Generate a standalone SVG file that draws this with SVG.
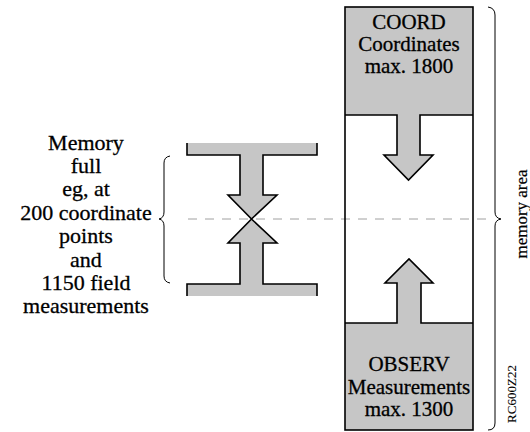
<svg xmlns="http://www.w3.org/2000/svg" width="530" height="432" viewBox="0 0 530 432">
<style>
.t{font-family:"Liberation Serif","Times New Roman",serif;font-size:21px;fill:#000;stroke:#000;stroke-width:0.3;text-anchor:middle}
.l{font-size:22px}
.sh{fill:#c6c6c6;stroke:none}
.ol{fill:none;stroke:#000;stroke-width:1.6;stroke-linejoin:miter}
.br{fill:none;stroke:#000;stroke-width:1}
.dash{stroke:#a0a0a0;stroke-width:1;stroke-dasharray:9,8;fill:none}
</style>
<rect width="530" height="432" fill="#fff"/>
<g id="connectors">
<line class="dash" x1="188" y1="219" x2="490" y2="219"/>
<path id="brace-left" class="br" d="M170,156 Q164,157 164,163 L164,212 Q164,218 159,219 Q164,220 164,226 L164,276 Q164,282 170,283"/>
<path id="brace-right" class="br" d="M488,7 Q495,8 495,15 L495,212 Q495,218 501,219 Q495,220 495,226 L495,423 Q495,430 488,430"/>
</g>
<g id="memory-full-shape">
<path class="sh" d="M187,143 L317,143 L317,155 L263,155 L263,195 L277,195 L251.5,219 L277,243 L263,243 L263,284 L317,284 L317,296 L187,296 L187,284 L240,284 L240,243 L228,243 L251.5,219 L228,195 L240,195 L240,155 L187,155 Z"/>
<path class="ol" d="M187,143 L187,155 L240,155 L240,195 L228,195 L251.5,219 L228,243 L240,243 L240,284 L187,284 L187,296"/>
<path class="ol" d="M317,143 L317,155 L263,155 L263,195 L277,195 L251.5,219 L277,243 L263,243 L263,284 L317,284 L317,296"/>
</g>
<g id="memory-full-label">
<text class="t l" x="86" y="150">Memory</text>
<text class="t l" x="86" y="173">full</text>
<text class="t l" x="86" y="196">eg, at</text>
<text class="t l" x="86" y="220">200 coordinate</text>
<text class="t l" x="86" y="243">points</text>
<text class="t l" x="86" y="267">and</text>
<text class="t l" x="86" y="290">1150 field</text>
<text class="t l" x="86" y="313">measurements</text>
</g>
<g id="memory-box">
<path id="coord" class="sh" d="M345,7 L473,7 L473,115 L420,115 L420,155 L433,155 L408.5,180 L384,155 L397,155 L397,115 L345,115 Z"/>
<path id="observ" class="sh" d="M345,430 L473,430 L473,323 L421,323 L421,283 L433,283 L409,259 L385,283 L397,283 L397,323 L345,323 Z"/>
<path class="ol" d="M345,115 L397,115 L397,155 L384,155 L408.5,180 L433,155 L420,155 L420,115 L473,115"/>
<path class="ol" d="M345,323 L397,323 L397,283 L385,283 L409,259 L433,283 L421,283 L421,323 L473,323"/>
<rect class="ol" x="345" y="7" width="128" height="423"/>
</g>
<g id="coord-label">
<text class="t" x="409" y="29">COORD</text>
<text class="t" x="409" y="51">Coordinates</text>
<text class="t" x="409" y="73">max. 1800</text>
</g>
<g id="observ-label">
<text class="t" x="409" y="371">OBSERV</text>
<text class="t" x="409" y="394">Measurements</text>
<text class="t" x="409" y="416">max. 1300</text>
</g>
<text class="t" transform="translate(527,214) rotate(-90)" style="font-size:17px;stroke-width:0.2">memory area</text>
<text class="t" transform="translate(516,394) rotate(-90)" style="font-size:13px;stroke-width:0.1">RC600Z22</text>
</svg>
